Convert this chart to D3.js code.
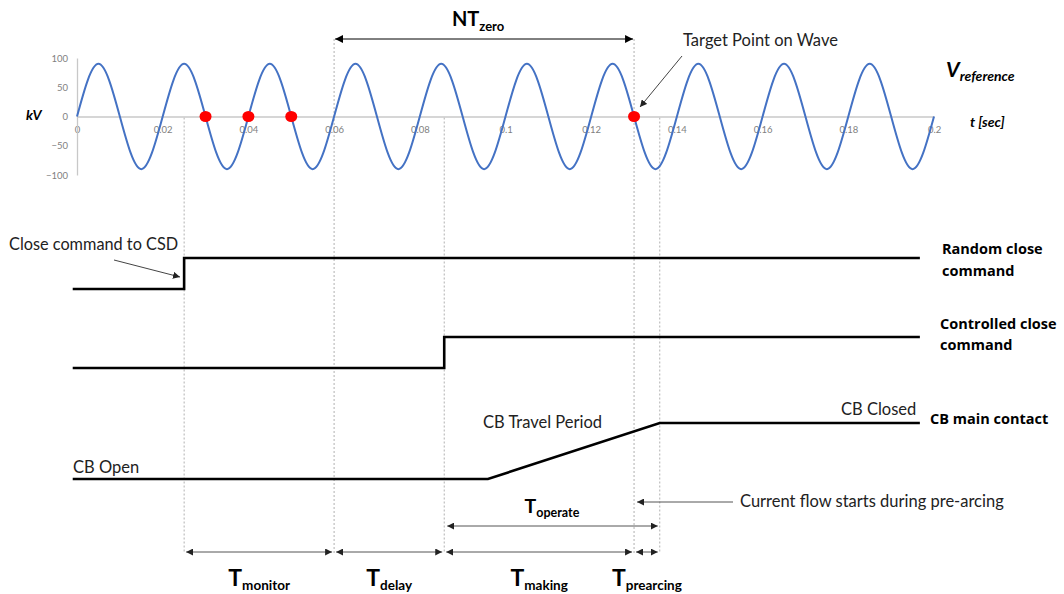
<!DOCTYPE html>
<html>
<head>
<meta charset="utf-8">
<style>
  body { margin: 0; background: #fff; }
  svg { display: block; font-family: Lato, "Open Sans", sans-serif; }
</style>
</head>
<body>
<svg width="1064" height="594"></svg>
<script src="https://d3js.org/d3.v7.min.js"></script>
<script>

// reference voltage, peaks and zero crossings (sec, kV)
var waveT = [0, 0.005, 0.01, 0.015, 0.02, 0.025, 0.03, 0.035, 0.04, 0.045,
             0.05, 0.055, 0.06, 0.065, 0.07, 0.075, 0.08, 0.085, 0.09, 0.095,
             0.1, 0.105, 0.11, 0.115, 0.12, 0.125, 0.13, 0.135, 0.14, 0.145,
             0.15, 0.155, 0.16, 0.165, 0.17, 0.175, 0.18, 0.185, 0.19, 0.195, 0.2];
var waveV = [0, 90, 0, -90, 0, 90, 0, -90, 0, 90,
             0, -90, 0, 90, 0, -90, 0, 90, 0, -90,
             0, 90, 0, -90, 0, 90, 0, -90, 0, 90,
             0, -90, 0, 90, 0, -90, 0, 90, 0, -90, 0];

// zero crossings marked in red
var dotT = [0.03, 0.04, 0.05, 0.13];

var xTicks = [0, 0.02, 0.04, 0.06, 0.08, 0.1, 0.12, 0.14, 0.16, 0.18, 0.2];
var yTicks = [100, 50, 0, -50, -100];

// event times (sec)
var tClose = 0.025, tNtStart = 0.06, tControl = 0.0857, tTravel = 0.0959,
    tTarget = 0.13, tClosed = 0.136, tStart = -0.001, tEnd = 0.1967;

// logic signals, 0 = low, 1 = high
var randomT = [tStart, tClose, tClose, tEnd];
var randomV = [0, 0, 1, 1];
var controlT = [tStart, tControl, tControl, tEnd];
var controlV = [0, 0, 1, 1];
var contactT = [tStart, tTravel, tClosed, tEnd];
var contactV = [0, 0, 1, 1];

// bottom intervals
var spanFrom = [tClose, tNtStart, tControl, tTarget];
var spanTo = [tNtStart, tControl, tTarget, tClosed];
var spanName = ["monitor", "delay", "making", "prearcing"];

var guideT = [tClose, tNtStart, tControl, tTarget, tClosed];

var svg = d3.select("svg");

var x = d3.scaleLinear().domain([0, 0.2]).range([77, 934]);
var y = d3.scaleLinear().domain([-100, 100]).range([175, 58]);

var defs = svg.append("defs");
function head(id, color, w) {
  defs.append("marker")
      .attr("id", id)
      .attr("viewBox", "0 0 10 10")
      .attr("refX", 10).attr("refY", 5)
      .attr("markerWidth", w).attr("markerHeight", w)
      .attr("markerUnits", "userSpaceOnUse")
      .attr("orient", "auto-start-reverse")
    .append("path")
      .attr("d", "M0,0L10,5L0,10z")
      .attr("fill", color);
}
head("hBlack", "#000", 8);
head("hGray", "#222", 7);

// dotted guides
var guideTop = function(t) { return (t === tNtStart || t === tTarget) ? 39 : y(0) + 1; };
svg.append("g").selectAll("line")
  .data(guideT)
  .enter().append("line")
    .attr("x1", function(d) { return x(d); })
    .attr("x2", function(d) { return x(d); })
    .attr("y1", guideTop)
    .attr("y2", 553)
    .attr("stroke", "#b0b0b0")
    .attr("stroke-width", 1)
    .attr("stroke-dasharray", "2,2");

// axes
var xAxis = svg.append("g")
    .attr("transform", "translate(0," + y(0) + ")")
    .call(d3.axisBottom(x).tickValues(xTicks).tickSize(0).tickPadding(10)
      .tickFormat(function(d) { return String(+d.toFixed(2)); }));
var yAxis = svg.append("g")
    .attr("transform", "translate(" + x(0) + ",0)")
    .call(d3.axisLeft(y).tickValues(yTicks).tickSize(0).tickPadding(9));
[xAxis, yAxis].forEach(function(a) {
  a.select(".domain").attr("stroke", "#c8c8c8").attr("stroke-width", 1.3);
  a.selectAll("text").attr("fill", "#7f7f7f").attr("font-size", 9.5)
    .attr("font-family", "Lato, sans-serif");
});

// wave
var wave = d3.line()
    .x(function(d, i) { return x(waveT[i]); })
    .y(function(d) { return y(d); })
    .curve(d3.curveNatural);
svg.append("path")
    .attr("d", wave(waveV))
    .attr("fill", "none")
    .attr("stroke", "#4472c4")
    .attr("stroke-width", 2);

svg.append("g").selectAll("ellipse")
  .data(dotT)
  .enter().append("ellipse")
    .attr("cx", function(d) { return x(d); })
    .attr("cy", y(0))
    .attr("rx", 6).attr("ry", 5.5)
    .attr("fill", "#ff0000");

// signals
function signal(ts, vs, low, high) {
  var ly = d3.scaleLinear().domain([0, 1]).range([low, high]);
  var line = d3.line()
      .x(function(d, i) { return x(ts[i]); })
      .y(function(d) { return ly(d); });
  svg.append("path")
      .attr("d", line(vs))
      .attr("fill", "none")
      .attr("stroke", "#000")
      .attr("stroke-width", 2.6);
}
signal(randomT, randomV, 289, 258);
signal(controlT, controlV, 368, 337);
signal(contactT, contactV, 479, 423);

// arrows
function arrow(x1, y1, x2, y2, color, both, mk) {
  var l = svg.append("line")
      .attr("x1", x1).attr("y1", y1).attr("x2", x2).attr("y2", y2)
      .attr("stroke", color).attr("stroke-width", 1)
      .attr("marker-end", "url(#" + mk + ")");
  if (both) l.attr("marker-start", "url(#" + mk + ")");
}
arrow(x(tNtStart) + 1, 39, x(tTarget) - 1, 39, "#000", true, "hBlack");
arrow(682, 56, 640, 107, "#444", false, "hGray");
arrow(114, 260, 180, 277, "#444", false, "hGray");
arrow(733, 502, x(tTarget) + 3, 502, "#555", false, "hGray");
arrow(x(tControl) + 3, 526, x(tClosed) - 2, 526, "#555", true, "hGray");

spanFrom.forEach(function(t0, i) {
  arrow(x(t0) + 2, 552, x(spanTo[i]) - 2, 552, "#555", true, "hGray");
});

// labels
function sub(xc, yb, big, small, bs, ss, dy, anchor) {
  var t = svg.append("text")
      .attr("x", xc).attr("y", yb)
      .attr("text-anchor", anchor || "middle")
      .attr("font-weight", "bold")
      .attr("font-size", bs)
      .text(big);
  t.append("tspan").attr("font-size", ss).attr("dy", dy).text(small);
  return t;
}

spanFrom.forEach(function(t0, i) {
  sub((x(t0) + x(spanTo[i])) / 2, 586, "T", spanName[i], 23, 13.5, 3.5);
});
sub((x(tControl) + x(tClosed)) / 2, 513, "T", "operate", 19.5, 12.5, 3.5);
sub((x(tNtStart) + x(tTarget)) / 2 - 6, 26, "NT", "zero", 20, 13, 5);

sub(946, 77, "V", "reference", 21, 14, 4, "start")
    .attr("font-style", "italic");

function label(tx, ty, s, size, bold, italic) {
  svg.append("text")
      .attr("x", tx).attr("y", ty)
      .attr("font-size", size)
      .attr("font-weight", bold ? "bold" : "normal")
      .attr("font-style", italic ? "italic" : "normal")
      .attr("fill", bold ? "#000" : "#222")
      .text(s);
}
function boldLabel(tx, ty, s) {
  svg.append("text")
      .attr("x", tx).attr("y", ty)
      .attr("font-family", "'Open Sans', sans-serif")
      .attr("font-size", 14.5)
      .attr("font-weight", "bold")
      .text(s);
}
label(26, 120, "kV", 14, true, true);
label(970, 127, "t [sec]", 14, true, true);
label(683, 46, "Target Point on Wave", 16.5);
label(9, 250, "Close command to CSD", 16.3);
boldLabel(942, 254, "Random close");
boldLabel(942, 276, "command");
boldLabel(940, 329, "Controlled close");
boldLabel(940, 350, "command");
boldLabel(930, 424, "CB main contact");
label(841, 415, "CB Closed", 16.5);
label(483, 428, "CB Travel Period", 16.5);
label(73, 473, "CB Open", 16.5);
label(740, 507, "Current flow starts during pre-arcing", 16.5);

</script>
</body>
</html>
